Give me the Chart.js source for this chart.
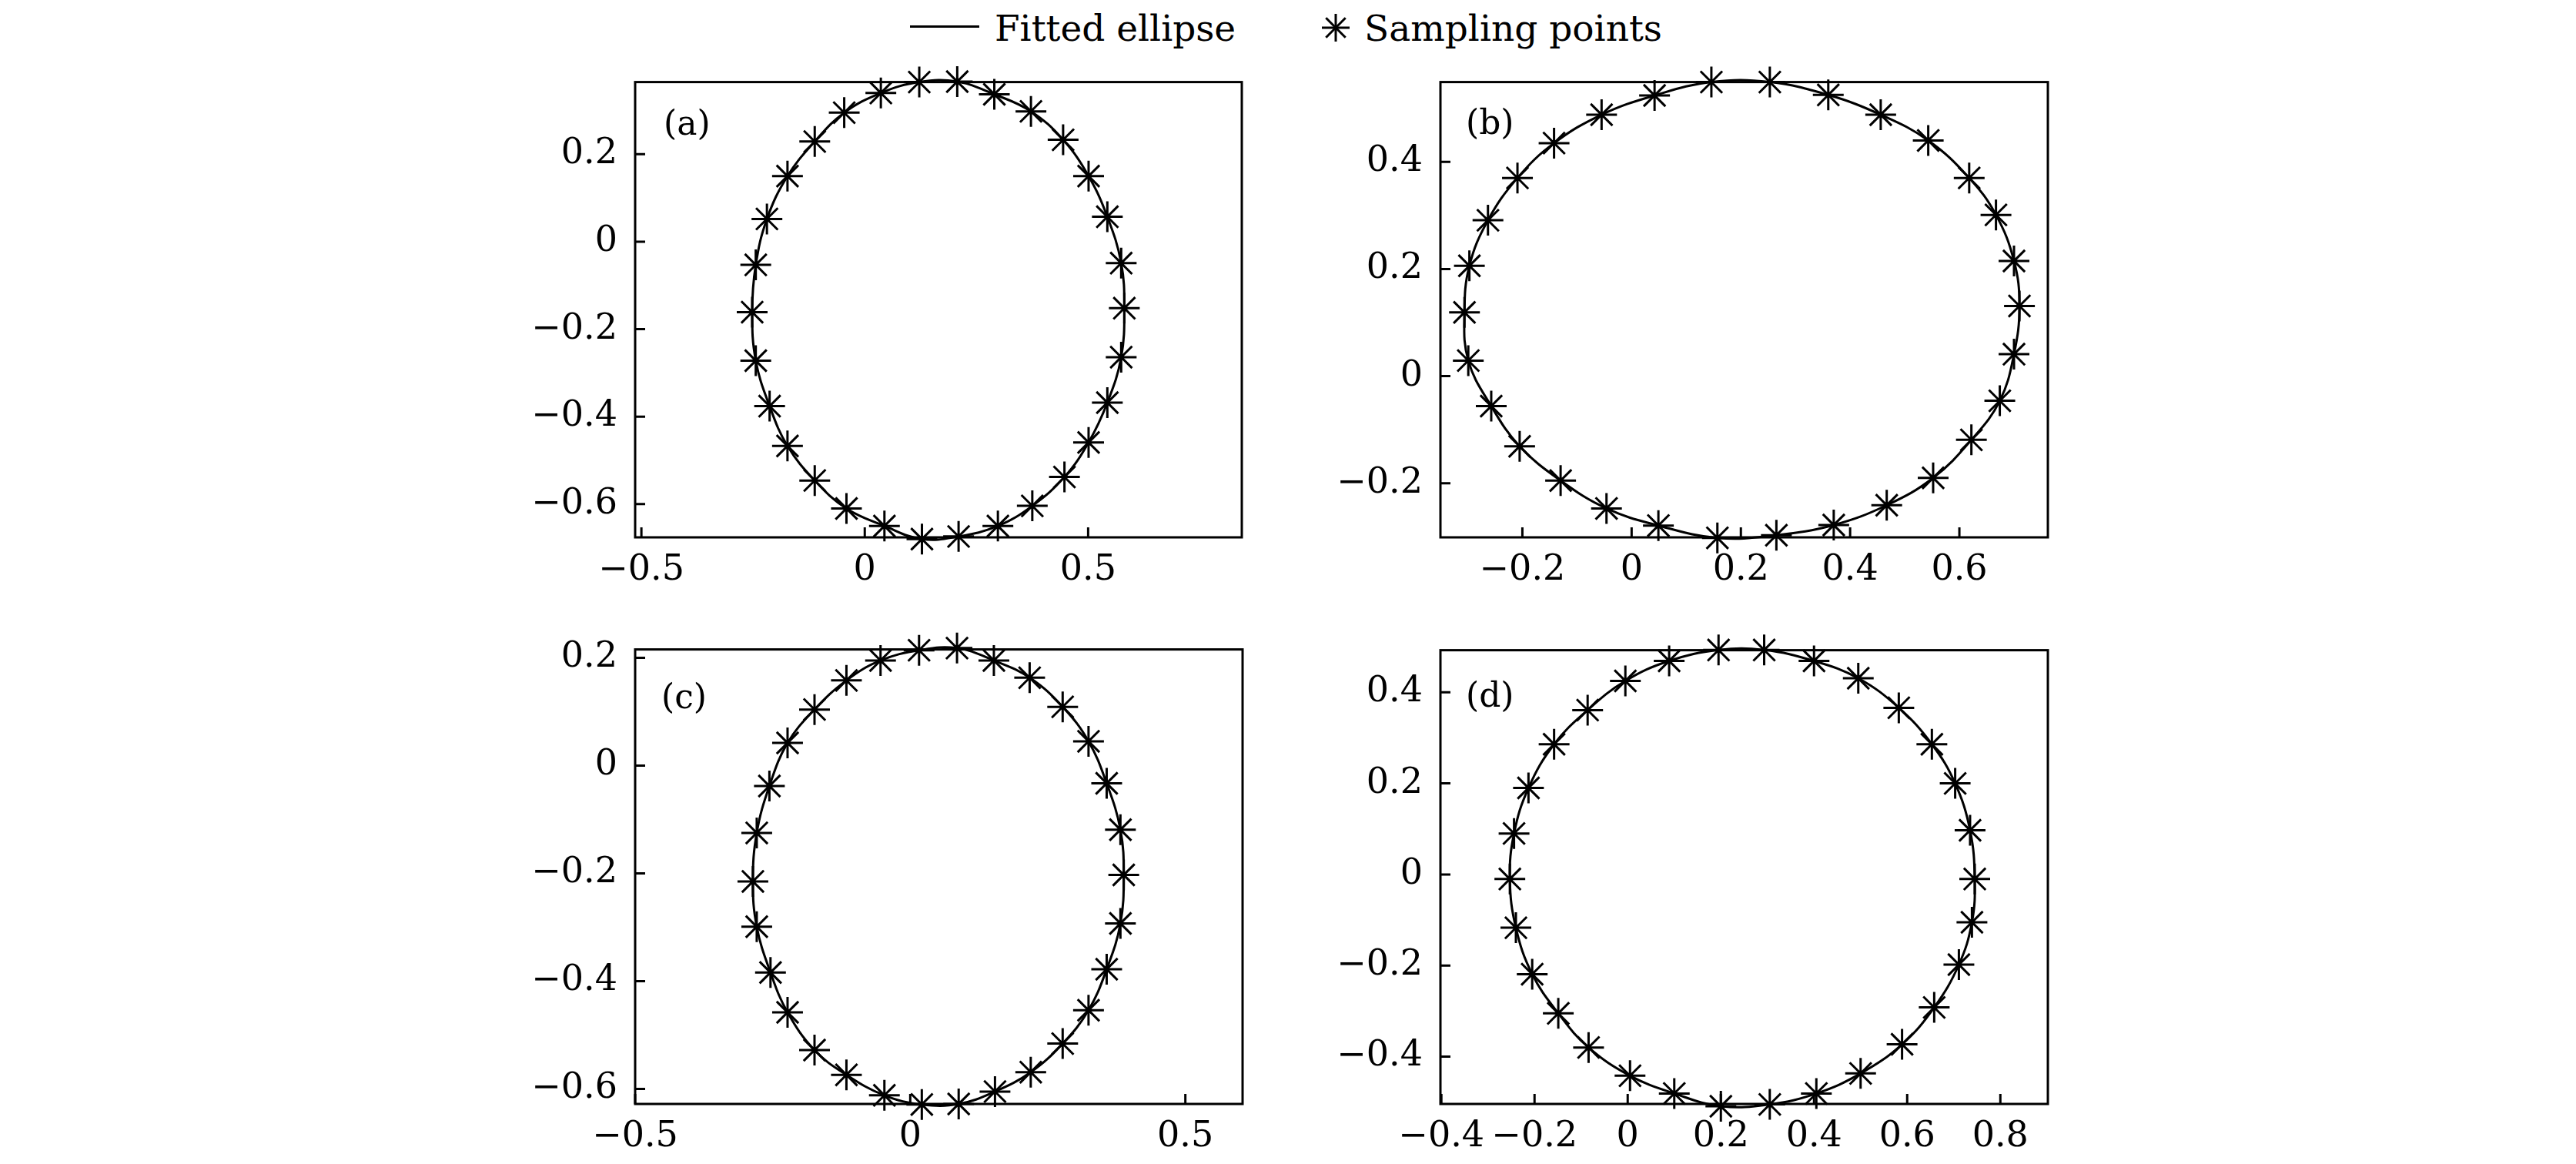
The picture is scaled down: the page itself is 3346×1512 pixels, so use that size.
<!DOCTYPE html>
<html>
<head>
<meta charset="utf-8">
<script src="https://cdn.jsdelivr.net/npm/chart.js@4/dist/chart.umd.min.js"></script>
<style>
  html, body { margin: 0; padding: 0; background: #fff; }
  body { width: 3346px; height: 1512px; position: relative; overflow: hidden; }
  canvas { position: absolute; }
  .lg { position: absolute; font-family: "DejaVu Serif", serif; font-size: 47px; line-height: 47px; color: #000; white-space: nowrap; }
</style>
</head>
<body>
<div style="position:absolute;left:1182px;top:33px;width:90px;height:3px;background:#000"></div>
<div class="lg" style="left:1292px;top:13px">Fitted ellipse</div>
<svg style="position:absolute;left:1714px;top:15px" width="42" height="42" viewBox="-21 -21 42 42">
  <g stroke="#000" stroke-width="3">
    <line x1="-18" y1="0" x2="18" y2="0"/><line x1="0" y1="-18" x2="0" y2="18"/>
    <line x1="-12.7" y1="-12.7" x2="12.7" y2="12.7"/><line x1="-12.7" y1="12.7" x2="12.7" y2="-12.7"/>
  </g>
</svg>
<div class="lg" style="left:1772px;top:13px">Sampling points</div>

<canvas id="ca"></canvas>
<canvas id="cb"></canvas>
<canvas id="cc"></canvas>
<canvas id="cd"></canvas>

<script>
// ---- Data (sampling points of each panel) ----
const aX = [0.122, 0.207, 0.290, 0.372, 0.444, 0.501, 0.543, 0.574, 0.581, 0.574, 0.543, 0.501, 0.447, 0.375, 0.298, 0.210, 0.128, 0.044, -0.041, -0.112, -0.173, -0.213, -0.244, -0.252, -0.244, -0.219, -0.173, -0.112, -0.046, 0.036];
const aY = [0.365, 0.366, 0.337, 0.298, 0.233, 0.150, 0.057, -0.049, -0.152, -0.264, -0.368, -0.459, -0.538, -0.604, -0.650, -0.674, -0.680, -0.650, -0.610, -0.546, -0.467, -0.376, -0.272, -0.161, -0.053, 0.052, 0.150, 0.229, 0.295, 0.340];

const bX = [0.146, 0.253, 0.360, 0.456, 0.543, 0.618, 0.667, 0.700, 0.710, 0.700, 0.674, 0.622, 0.552, 0.467, 0.370, 0.265, 0.157, 0.049, -0.046, -0.130, -0.205, -0.257, -0.299, -0.306, -0.297, -0.263, -0.209, -0.142, -0.055, 0.042];
const bY = [0.549, 0.549, 0.525, 0.488, 0.440, 0.370, 0.301, 0.215, 0.131, 0.041, -0.046, -0.119, -0.190, -0.241, -0.278, -0.297, -0.302, -0.279, -0.247, -0.195, -0.131, -0.056, 0.029, 0.119, 0.206, 0.291, 0.370, 0.435, 0.488, 0.524];

const cX = [0.016, 0.085, 0.152, 0.217, 0.277, 0.324, 0.357, 0.382, 0.388, 0.382, 0.357, 0.324, 0.277, 0.219, 0.154, 0.088, 0.021, -0.047, -0.116, -0.174, -0.223, -0.254, -0.279, -0.286, -0.279, -0.256, -0.223, -0.174, -0.116, -0.054];
const cY = [0.214, 0.218, 0.195, 0.163, 0.109, 0.045, -0.033, -0.119, -0.203, -0.293, -0.378, -0.454, -0.516, -0.569, -0.605, -0.628, -0.629, -0.612, -0.574, -0.528, -0.458, -0.384, -0.299, -0.215, -0.125, -0.038, 0.042, 0.104, 0.158, 0.195];

const dX = [0.195, 0.293, 0.400, 0.495, 0.582, 0.653, 0.703, 0.735, 0.745, 0.739, 0.711, 0.658, 0.589, 0.500, 0.405, 0.305, 0.200, 0.100, 0.005, -0.084, -0.149, -0.205, -0.240, -0.253, -0.244, -0.213, -0.158, -0.086, -0.005, 0.089];
const dY = [0.493, 0.493, 0.469, 0.431, 0.366, 0.286, 0.200, 0.097, -0.010, -0.105, -0.198, -0.292, -0.373, -0.437, -0.481, -0.505, -0.509, -0.481, -0.442, -0.380, -0.305, -0.219, -0.117, -0.010, 0.090, 0.190, 0.286, 0.361, 0.425, 0.469];

// ---- Tick values ----
const aXTicks = [-0.5, 0, 0.5];
const aYTicks = [-0.6, -0.4, -0.2, 0, 0.2];
const bXTicks = [-0.2, 0, 0.2, 0.4, 0.6];
const bYTicks = [-0.2, 0, 0.2, 0.4];
const cXTicks = [-0.5, 0, 0.5];
const cYTicks = [-0.6, -0.4, -0.2, 0, 0.2];
const dXTicks = [-0.4, -0.2, 0, 0.2, 0.4, 0.6, 0.8];
const dYTicks = [-0.4, -0.2, 0, 0.2, 0.4];

const panelLabels = ['(a)', '(b)', '(c)', '(d)'];

// ---- Layout ----
const Y_AXIS_W = 265, PAD_TOP = 50, PAD_RIGHT = 47, X_AXIS_H = 102;
const FONT = '"DejaVu Serif", serif';
const TICK_SIZE = 46;

const framePlugin = {
  id: 'frame',
  afterDraw(chart, args, opts) {
    const { ctx, chartArea: a } = chart;
    const xs = chart.scales.x, ys = chart.scales.y;
    ctx.save();
    ctx.strokeStyle = '#000';
    ctx.lineWidth = 3;
    ctx.lineCap = 'butt';
    ctx.strokeRect(a.left, a.top, a.right - a.left, a.bottom - a.top);
    ctx.beginPath();
    xs.ticks.forEach(t => {
      const px = xs.getPixelForValue(t.value);
      ctx.moveTo(px, a.bottom); ctx.lineTo(px, a.bottom - 13);
    });
    ys.ticks.forEach(t => {
      const py = ys.getPixelForValue(t.value);
      ctx.moveTo(a.left, py); ctx.lineTo(a.left + 13, py);
    });
    ctx.stroke();
    ctx.fillStyle = '#000';
    ctx.font = '44px ' + FONT;
    ctx.textBaseline = 'alphabetic';
    ctx.textAlign = 'left';
    ctx.fillText(opts.label, a.left + opts.dx, a.top + opts.dy);
    ctx.restore();
  }
};

function fmt(v) {
  const r = Math.round(v * 10) / 10;
  return r < 0 ? '\u2212' + String(Math.abs(r)) : String(r);
}

function makePanel(id, box, xs, ys, xRange, yRange, xTicks, yTicks, label, dx, dy) {
  const cv = document.getElementById(id);
  const left = box.L - Y_AXIS_W, top = box.T - PAD_TOP;
  const w = (box.R + PAD_RIGHT) - left, h = (box.B + X_AXIS_H) - top;
  cv.width = w; cv.height = h;
  cv.style.left = left + 'px'; cv.style.top = top + 'px';
  cv.style.width = w + 'px'; cv.style.height = h + 'px';

  const pts = xs.map((x, i) => ({ x: x, y: ys[i] }));
  const n = pts.length;
  const loop = [pts[n - 1]].concat(pts, [pts[0], pts[1]]);
  const lastIdx = loop.length - 1;

  new Chart(cv, {
    type: 'scatter',
    data: {
      datasets: [
        {
          label: 'Fitted ellipse',
          data: loop,
          showLine: true,
          borderColor: '#000',
          borderWidth: 3,
          pointRadius: 0,
          tension: 0.4,
          clip: false,
          segment: {
            borderColor: c => (c.p0DataIndex === 0 || c.p1DataIndex === lastIdx) ? 'rgba(0,0,0,0)' : undefined
          }
        },
        {
          label: 'Sampling points',
          data: pts,
          showLine: false,
          pointStyle: 'star',
          pointRadius: 20,
          pointBorderWidth: 3,
          borderColor: '#000',
          backgroundColor: '#000',
          clip: false
        }
      ]
    },
    options: {
      responsive: false,
      animation: false,
      devicePixelRatio: 1,
      events: [],
      layout: { padding: { top: PAD_TOP, right: PAD_RIGHT, left: 0, bottom: 0 } },
      elements: { line: { capBezierPoints: false } },
      plugins: {
        legend: { display: false },
        tooltip: { enabled: false },
        frame: { label: label, dx: dx, dy: dy }
      },
      scales: {
        x: {
          type: 'linear',
          min: xRange[0], max: xRange[1],
          grid: { display: false, drawTicks: false },
          border: { display: false },
          afterBuildTicks: s => { s.ticks = xTicks.map(v => ({ value: v })); },
          afterFit: s => { s.height = X_AXIS_H; },
          ticks: { color: '#000', font: { family: FONT, size: TICK_SIZE }, padding: 15, maxRotation: 0, autoSkip: false, callback: v => fmt(v) }
        },
        y: {
          type: 'linear',
          min: yRange[0], max: yRange[1],
          grid: { display: false, drawTicks: false },
          border: { display: false },
          afterBuildTicks: s => { s.ticks = yTicks.map(v => ({ value: v })); },
          afterFit: s => { s.width = Y_AXIS_W; },
          ticks: { color: '#000', font: { family: FONT, size: TICK_SIZE }, padding: 23, autoSkip: false, callback: v => fmt(v) }
        }
      }
    },
    plugins: [framePlugin]
  });
}

makePanel('ca', { L: 825, T: 106, R: 1613, B: 698 }, aX, aY, [-0.514, 0.844], [-0.676, 0.365], aXTicks, aYTicks, panelLabels[0], 37, 68);
makePanel('cb', { L: 1871, T: 106, R: 2660, B: 698 }, bX, bY, [-0.350, 0.762], [-0.301, 0.549], bXTicks, bYTicks, panelLabels[1], 33, 67);
makePanel('cc', { L: 825, T: 843, R: 1614, B: 1434 }, cX, cY, [-0.500, 0.604], [-0.628, 0.2155], cXTicks, cYTicks, panelLabels[2], 34, 76);
makePanel('cd', { L: 1871, T: 844, R: 2660, B: 1434 }, dX, dY, [-0.402, 0.902], [-0.504, 0.4925], dXTicks, dYTicks, panelLabels[3], 33, 73);
</script>
</body>
</html>
